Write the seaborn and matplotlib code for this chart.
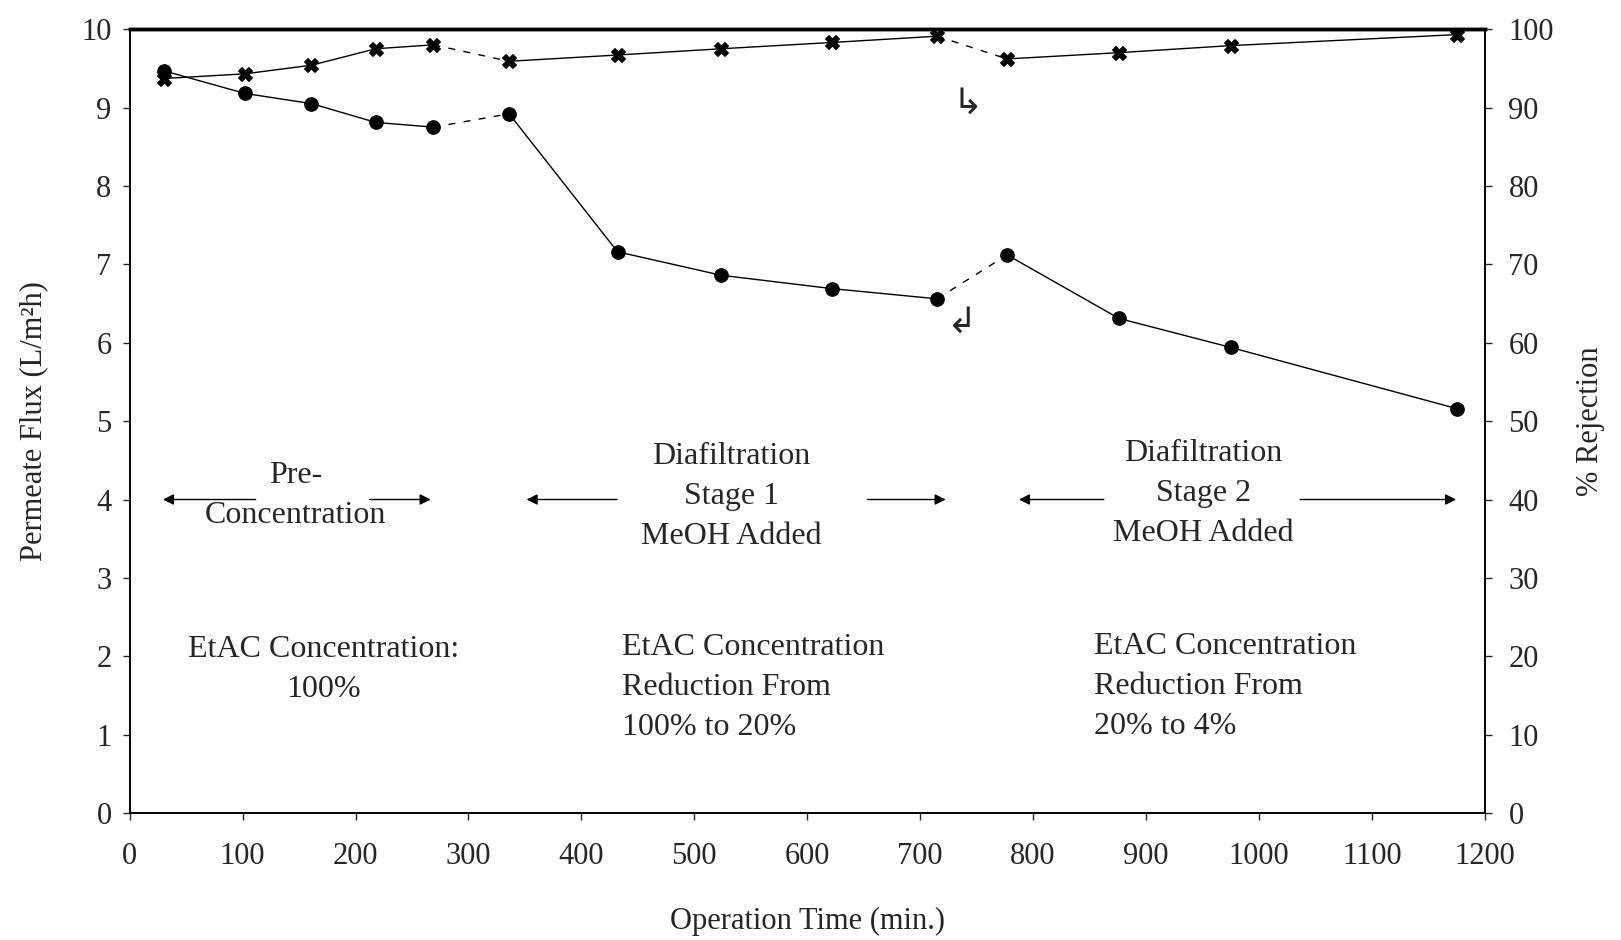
import matplotlib
matplotlib.use("Agg")
import matplotlib.pyplot as plt
import pandas as pd
import seaborn as sns

# operation time (min) and the two measured series
time_min = [30, 102, 161, 218, 269, 336, 432, 524, 622, 715, 777, 876, 975, 1175]
flux = [9.47, 9.18, 9.05, 8.81, 8.75, 8.92, 7.16, 6.86, 6.69, 6.56, 7.12, 6.31, 5.94, 5.16]
rejection = [93.7, 94.3, 95.4, 97.5, 98.0, 95.9, 96.7, 97.5, 98.3, 99.1, 96.2, 97.0, 97.9, 99.3]

# index ranges drawn solid / dashed (dashed = change of operating stage)
solid_parts = [(0, 5), (5, 10), (10, 14)]
dashed_parts = [(4, 6), (9, 11)]

df = pd.DataFrame({"time": time_min, "flux": flux, "rej": rejection})

sns.set_style("ticks")
plt.rcParams["font.family"] = ["Liberation Serif", "DejaVu Serif"]

fig = plt.figure(figsize=(16.21, 9.40), dpi=100)
ax = fig.add_axes([0.080, 0.135, 0.836, 0.834])
ax2 = ax.twinx()

for a, b in solid_parts:
    part = df.iloc[a:b]
    sns.lineplot(data=part, x="time", y="flux", ax=ax, color="black", lw=1.0, sort=False)
    sns.lineplot(data=part, x="time", y="rej", ax=ax2, color="black", lw=1.0, sort=False)
for a, b in dashed_parts:
    part = df.iloc[a:b]
    sns.lineplot(data=part, x="time", y="flux", ax=ax, color="black", lw=1.0,
                 sort=False, linestyle=(0, (5, 6)))
    sns.lineplot(data=part, x="time", y="rej", ax=ax2, color="black", lw=1.0,
                 sort=False, linestyle=(0, (5, 6)))

sns.scatterplot(data=df, x="time", y="flux", ax=ax, color="black", marker="o",
                s=95, edgecolor="black", zorder=5)
sns.scatterplot(data=df, x="time", y="rej", ax=ax2, color="black", marker="X",
                s=100, edgecolor="black", zorder=5)

ax.set_xlim(0, 1200)
ax.set_ylim(0, 10)
ax2.set_ylim(0, 100)
ax.set_xticks(range(0, 1201, 100))
ax.set_yticks(range(0, 11))
ax2.set_yticks(range(0, 101, 10))

fs = 22
ax.tick_params(axis="x", labelsize=fs, direction="out", length=5, width=1, pad=16)
ax.tick_params(axis="y", labelsize=fs, direction="out", length=5, width=1, pad=8)
ax2.tick_params(labelsize=fs, direction="out", length=5, width=1, pad=12)
ax.set_xlabel("Operation Time (min.)", fontsize=fs, labelpad=26)
ax.set_ylabel("Permeate Flux (L/m²h)", fontsize=fs, labelpad=24)
ax2.set_ylabel("% Rejection", fontsize=fs, labelpad=16)

for a in (ax, ax2):
    for s in a.spines.values():
        s.set_linewidth(1.2)
        s.set_color("black")
    a.spines["top"].set_linewidth(2.5)

# stage labels with double arrows
fs_txt = 23
lsp = 1.5
arrow = dict(arrowstyle="-|>", color="black", lw=1.0, mutation_scale=16)
stages = [
    ("Pre-\nConcentration", 147, 4.05, 27, 114, 210, 269),
    ("Diafiltration\nStage 1\nMeOH Added", 533, 4.04, 349, 434, 651, 725),
    ("Diafiltration\nStage 2\nMeOH Added", 951, 4.08, 785, 865, 1034, 1177),
]
for label, xc, yc, x_l, x_l2, x_r, x_r2 in stages:
    ax.text(xc, yc, label, ha="center", va="center", fontsize=fs_txt, linespacing=lsp)
    ax.annotate("", xy=(x_l, 4.0), xytext=(x_l2, 4.0), arrowprops=arrow)
    ax.annotate("", xy=(x_r2, 4.0), xytext=(x_r, 4.0), arrowprops=arrow)

# EtAC concentration notes
ax.text(172, 1.83, "EtAC Concentration:\n100%", ha="center", va="center",
        fontsize=fs_txt, linespacing=lsp)
ax.text(436, 1.60, "EtAC Concentration\nReduction From\n100% to 20%", ha="left",
        va="center", fontsize=fs_txt, linespacing=lsp)
ax.text(854, 1.61, "EtAC Concentration\nReduction From\n20% to 4%", ha="left",
        va="center", fontsize=fs_txt, linespacing=lsp)

# small bent arrows showing which axis each series belongs to
ax.text(742, 9.05, "↳", ha="center", va="center", fontsize=26, family="DejaVu Sans")
ax.text(737, 6.25, "↲", ha="center", va="center", fontsize=26, family="DejaVu Sans")

fig.savefig("out.png", dpi=100)
